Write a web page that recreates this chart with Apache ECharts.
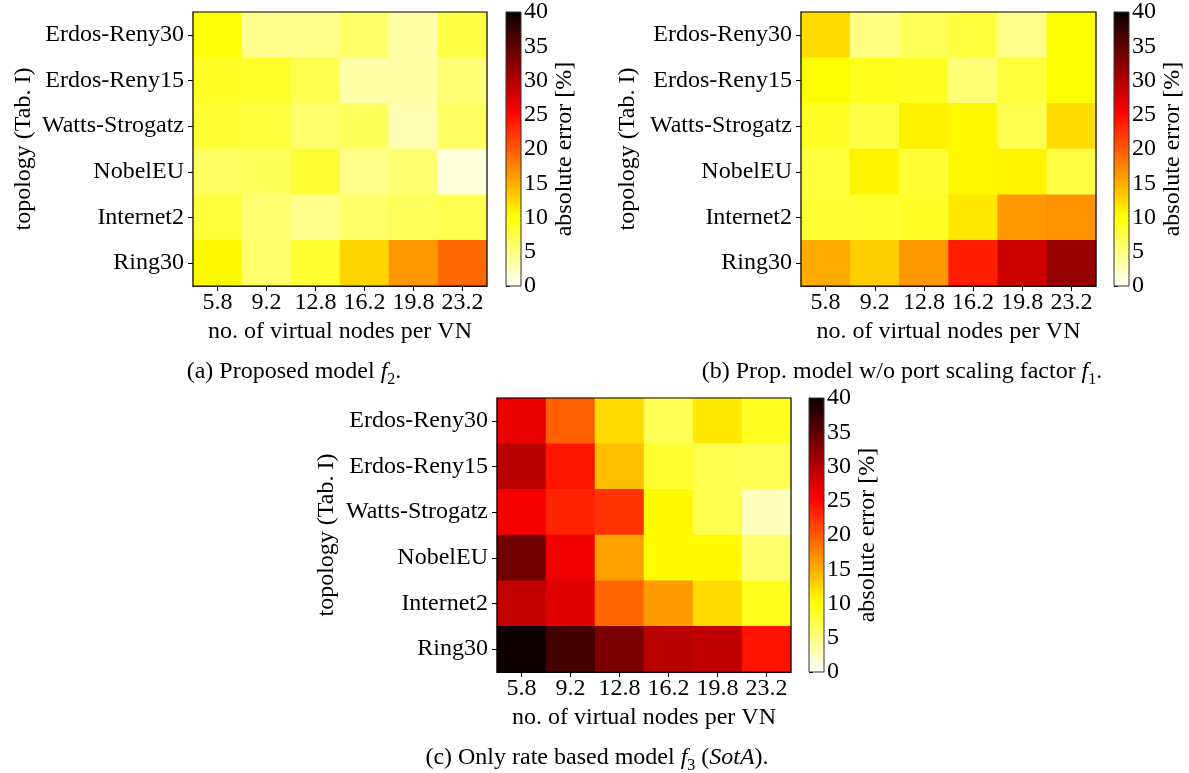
<!DOCTYPE html>
<html>
<head>
<meta charset="utf-8">
<script src="https://cdn.jsdelivr.net/npm/echarts@6/dist/echarts.min.js"></script>
<style>
  html, body { margin: 0; padding: 0; background: #fff; }
  #chart { width: 1189px; height: 773px; }
</style>
</head>
<body>
<div id="chart"></div>
<script>
// Categories
const nodesPerVN = ['5.8', '9.2', '12.8', '16.2', '19.8', '23.2'];
const topologies = ['Erdos-Reny30', 'Erdos-Reny15', 'Watts-Strogatz', 'NobelEU', 'Internet2', 'Ring30'];

// Absolute error [%], rows follow `topologies`, columns follow `nodesPerVN`
const errProposedF2 = [
  [9.8, 4.6, 4.6, 6.1, 3.4, 7.4],
  [8.6, 8.4, 7.0, 3.4, 3.6, 5.4],
  [8.0, 7.6, 5.8, 6.4, 3.0, 6.2],
  [6.2, 6.4, 8.0, 4.6, 5.6, 1.4],
  [7.8, 5.6, 4.6, 6.0, 6.6, 7.0],
  [10.5, 5.8, 8.2, 12.6, 16.4, 19.1]
];
const errNoPortScalingF1 = [
  [12.3, 5.0, 6.6, 7.6, 4.6, 10.1],
  [10.2, 9.0, 8.8, 5.4, 7.8, 10.0],
  [8.6, 7.4, 11.0, 10.5, 7.0, 12.3],
  [7.6, 10.8, 8.0, 10.6, 10.8, 7.4],
  [8.0, 8.2, 8.6, 11.5, 16.4, 16.7],
  [15.2, 13.1, 16.4, 23.6, 28.4, 31.6]
];
const errRateOnlyF3 = [
  [26.6, 19.7, 12.3, 6.8, 11.5, 8.8],
  [29.6, 24.2, 14.0, 8.2, 7.0, 6.8],
  [26.0, 23.3, 22.4, 10.4, 7.0, 2.6],
  [33.8, 26.3, 15.8, 10.4, 10.4, 5.8],
  [29.0, 27.2, 19.4, 16.1, 12.3, 9.0],
  [39.9, 36.7, 33.2, 29.6, 29.3, 24.4]
];

// Colour scale range and colourbar ticks
const scaleMin = 0;
const scaleMax = 40;
const scaleStep = 5;

// Reversed "hot" colour map: white -> yellow -> red -> black
function hotReversed(v) {
  const t = 1 - (v - scaleMin) / (scaleMax - scaleMin);
  const clamp = x => Math.max(0, Math.min(1, x));
  const r = clamp(0.0416 + (1 - 0.0416) * t / 0.365079);
  const g = clamp((t - 0.365079) / (0.746032 - 0.365079));
  const b = clamp((t - 0.746032) / (1 - 0.746032));
  const h = x => Math.round(x * 255);
  return 'rgb(' + h(r) + ',' + h(g) + ',' + h(b) + ')';
}
const rampSteps = 80;
const rampColors = [];
const rampStops = [];
for (let i = 0; i <= rampSteps; i++) {
  const v = scaleMin + (scaleMax - scaleMin) * i / rampSteps;
  rampColors.push(hotReversed(v));
  rampStops.push({ offset: i / rampSteps, color: hotReversed(v) });
}

const FONT = '"Liberation Serif", "DejaVu Serif", serif';
const FS = 24;

function toCells(matrix) {
  const out = [];
  matrix.forEach((row, yi) => row.forEach((v, xi) => out.push([xi, yi, v])));
  return out;
}

// Panel layout: heatmap box, colourbar box, axis-name offsets
const panels = [
  { data: errProposedF2, left: 193, top: 12, width: 294, height: 274, cbLeft: 506, yNameGap: 157 },
  { data: errNoPortScalingF1, left: 801, top: 12, width: 295, height: 274, cbLeft: 1114, yNameGap: 161 },
  { data: errRateOnlyF3, left: 497, top: 398, width: 294, height: 274, cbLeft: 809, yNameGap: 158 }
];
const cbWidth = 15;

const grid = [], xAxis = [], yAxis = [], series = [];
panels.forEach((p, i) => {
  grid.push({ left: p.left, top: p.top, width: p.width, height: p.height,
    show: true, borderColor: '#000', borderWidth: 1.2, backgroundColor: 'transparent', z: 5 });
  xAxis.push({
    type: 'category', gridIndex: i, data: nodesPerVN,
    name: 'no. of virtual nodes per VN', nameLocation: 'middle', nameGap: 34,
    nameTextStyle: { fontFamily: FONT, fontSize: FS, color: '#000' },
    axisLine: { show: true, lineStyle: { color: '#000', width: 1.2 } },
    axisTick: { show: true, alignWithLabel: true, interval: 0, length: 5, lineStyle: { color: '#000' } },
    axisLabel: { fontFamily: FONT, fontSize: FS, color: '#000', margin: 5, interval: 0, hideOverlap: false },
    splitLine: { show: false }
  });
  yAxis.push({
    type: 'category', gridIndex: i, data: topologies, inverse: true,
    name: 'topology (Tab. I)', nameLocation: 'middle', nameGap: p.yNameGap, nameRotate: 90,
    nameTextStyle: { fontFamily: FONT, fontSize: FS, color: '#000' },
    axisLine: { show: true, lineStyle: { color: '#000', width: 1.2 } },
    axisTick: { show: true, alignWithLabel: true, interval: 0, length: 5, lineStyle: { color: '#000' } },
    axisLabel: { fontFamily: FONT, fontSize: FS, color: '#000', margin: 9, interval: 0, hideOverlap: false },
    splitLine: { show: false }
  });
  series.push({
    type: 'heatmap', xAxisIndex: i, yAxisIndex: i, data: toCells(p.data),
    itemStyle: { borderWidth: 0 }, emphasis: { disabled: true }, progressive: 0
  });
});

// Colourbars: one gradient rectangle per panel on its own value axis
panels.forEach((p, i) => {
  const gi = panels.length + i;
  grid.push({ left: p.cbLeft, top: p.top, width: cbWidth, height: p.height,
    show: true, borderColor: '#333', borderWidth: 1, backgroundColor: 'transparent', z: 5 });
  xAxis.push({ type: 'value', gridIndex: gi, min: 0, max: 1, show: false });
  yAxis.push({
    type: 'value', gridIndex: gi, position: 'right', min: scaleMin, max: scaleMax, interval: scaleStep,
    name: 'absolute error [%]', nameLocation: 'middle', nameGap: 32, nameRotate: 90,
    nameTextStyle: { fontFamily: FONT, fontSize: FS, color: '#000' },
    axisLine: { show: true, lineStyle: { color: '#333', width: 1 } },
    axisTick: { show: true, length: 4, lineStyle: { color: '#000' } },
    axisLabel: { fontFamily: FONT, fontSize: FS, color: '#000', margin: 3 },
    splitLine: { show: false }
  });
  series.push({
    type: 'custom', xAxisIndex: gi, yAxisIndex: gi,
    data: [[0, scaleMin, 1, scaleMax]],
    encode: { x: [0, 2], y: [1, 3] },
    renderItem: function (params, api) {
      const a = api.coord([api.value(0), api.value(1)]);
      const b = api.coord([api.value(2), api.value(3)]);
      return {
        type: 'rect',
        shape: { x: a[0], y: b[1], width: b[0] - a[0], height: a[1] - b[1] },
        style: { fill: new echarts.graphic.LinearGradient(0, 1, 0, 0, rampStops) }
      };
    },
    silent: true
  });
});

// Sub-figure captions
const capRich = {
  n: { fontFamily: FONT, fontSize: 24, color: '#000', lineHeight: 30 },
  f: { fontFamily: FONT, fontSize: 24, fontStyle: 'italic', color: '#000', lineHeight: 30 },
  s: { fontFamily: FONT, fontSize: 16, color: '#000', lineHeight: 30, padding: [16, 0, 0, 0] }
};
function caption(x, y, text) {
  return { type: 'text', x: x, y: y, z: 10,
    style: { text: text, rich: capRich, align: 'center', verticalAlign: 'middle' } };
}

const option = {
  animation: false,
  backgroundColor: '#fff',
  grid: grid,
  xAxis: xAxis,
  yAxis: yAxis,
  visualMap: {
    type: 'continuous', show: false, min: scaleMin, max: scaleMax,
    seriesIndex: [0, 1, 2], inRange: { color: rampColors }
  },
  series: series,
  graphic: [
    caption(294, 372, '{n|(a) Proposed model }{f|f}{s|2}{n|.}'),
    caption(902, 372, '{n|(b) Prop. model w/o port scaling factor }{f|f}{s|1}{n|.}'),
    caption(597, 758, '{n|(c) Only rate based model }{f|f}{s|3}{n| (}{f|SotA}{n|).}')
  ]
};

const chart = echarts.init(document.getElementById('chart'), null, { renderer: 'canvas' });
chart.setOption(option);
</script>
</body>
</html>
